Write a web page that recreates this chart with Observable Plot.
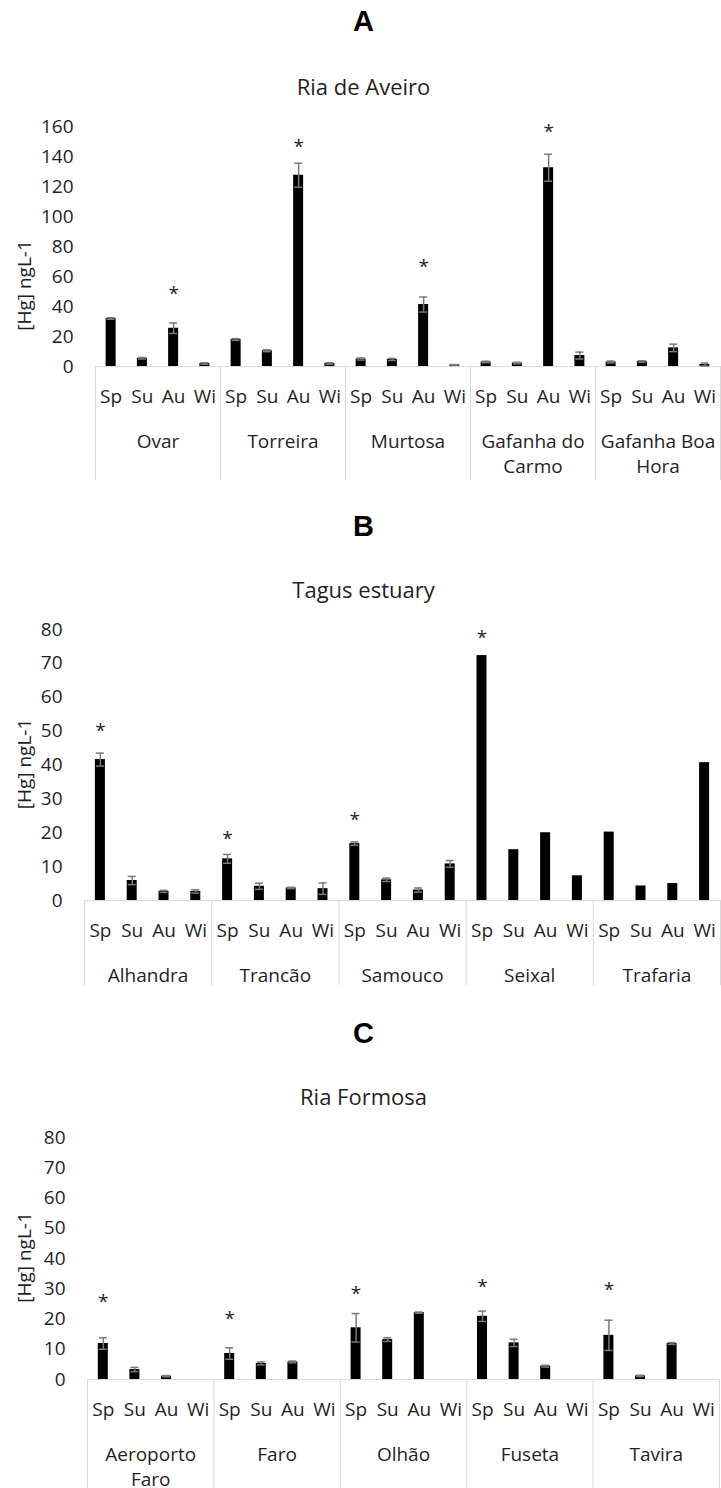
<!DOCTYPE html>
<html>
<head>
<meta charset="utf-8">
<script src="https://cdn.jsdelivr.net/npm/d3@7"></script>
<script src="https://cdn.jsdelivr.net/npm/@observablehq/plot@0.6"></script>
<style>
  html, body { margin: 0; padding: 0; background: #fff; }
  body { width: 721px; height: 1488px; position: relative; overflow: hidden; font-family: "Open Sans", sans-serif; }
  .panel { position: absolute; left: 0; }
  .panel svg { display: block; }
</style>
</head>
<body>
<div id="pA" class="panel" style="top:0px"></div>
<div id="pB" class="panel" style="top:500px"></div>
<div id="pC" class="panel" style="top:1000px"></div>
<script>
// ---------- data ----------
const seasons = ["Sp", "Su", "Au", "Wi"];
const yLabel = "[Hg] ngL-1";

// A - Ria de Aveiro
const aveiroLetter = "A";
const aveiroTitle = "Ria de Aveiro";
const aveiroSites = ["Ovar", "Torreira", "Murtosa", "Gafanha do\nCarmo", "Gafanha Boa\nHora"];
const aveiroMean = [32, 5.5, 25.5, 2,   18, 10.5, 127.5, 2,   5, 4.7, 41.3, 1,   3, 2.3, 132.5, 7.3,   3, 3.3, 12.4, 1.3];
const aveiroErr  = [0.5, 0.5, 3.5, 0.5, 0.6, 0.6, 8, 0.5,    0.7, 0.7, 5, 0.3,  0.5, 0.5, 9, 2.3,     0.6, 0.5, 2.5, 1];
const aveiroStar = [null, null, 51, null, null, null, 149, null, null, null, 69, null, null, null, 159, null, null, null, null, null];
const aveiroTicks = [0, 20, 40, 60, 80, 100, 120, 140, 160];

// B - Tagus estuary
const tagusLetter = "B";
const tagusTitle = "Tagus estuary";
const tagusSites = ["Alhandra", "Trancão", "Samouco", "Seixal", "Trafaria"];
const tagusMean = [41.6, 5.9, 2.7, 2.7,  12.3, 4.2, 3.7, 3.5,  16.8, 6.1, 3.1, 10.8,  72.3, 15, 20, 7.3,  20.2, 4.3, 5, 40.7];
const tagusErr  = [1.9, 1.2, 0.3, 0.5,   1.3, 0.9, 0.2, 1.7,   0.5, 0.5, 0.6, 1.0,    0, 0, 0, 0,       0, 0, 0, 0];
const tagusStar = [51.2, null, null, null, 19.5, null, null, null, 25.1, null, null, null, 78.8, null, null, null, null, null, null, null];
const tagusTicks = [0, 10, 20, 30, 40, 50, 60, 70, 80];

// C - Ria Formosa
const formosaLetter = "C";
const formosaTitle = "Ria Formosa";
const formosaSites = ["Aeroporto\nFaro", "Faro", "Olhão", "Fuseta", "Tavira"];
const formosaMean = [11.9, 3.3, 1.1, null,  8.6, 5.3, 5.8, null,  17.1, 13.2, 22.1, null,  20.9, 12.1, 4.4, null,  14.6, 1.2, 11.9, null];
const formosaErr  = [1.9, 0.7, 0.2, null,   1.9, 0.5, 0.3, null,  4.7, 0.6, 0.2, null,     1.7, 1.2, 0.3, null,   5.0, 0.2, 0.3, null];
const formosaStar = [27.0, null, null, null, 21.5, null, null, null, 29.7, null, null, null, 32.0, null, null, null, 31.1, null, null, null];
const formosaTicks = [0, 10, 20, 30, 40, 50, 60, 70, 80];

// ---------- drawing ----------
const TEXT = "#1f1f1f";
const GRID = "#d9d9d9";
const ERR = "#7a7a7a";
const W = 721;
const FS = 19;

function panel(el, cfg) {
  const n = cfg.mean.length;
  const rows = cfg.mean.map((v, i) => ({
    i, v,
    e: cfg.err[i],
    star: cfg.star[i],
    season: seasons[i % seasons.length]
  }));
  const ml = cfg.ml, mr = cfg.mr, mt = cfg.mt, mb = cfg.mb;
  const slot = (W - ml - mr) / n;
  const barInset = (slot - 10) / 2;
  const capInset = (slot - 8) / 2;
  const frameCx = ml + (W - ml - mr) / 2;
  const shift = 363 - frameCx;
  const groups = cfg.sites.map((s, g) => ({ s, g }));
  const edges = d3.range(0, n + 1, seasons.length);
  const withErr = rows.filter(d => d.v != null && d.e != null && d.e > 0);

  const chart = Plot.plot({
    width: W,
    height: cfg.height,
    marginLeft: ml,
    marginRight: mr,
    marginTop: mt,
    marginBottom: mb,
    style: { fontFamily: '"Open Sans", sans-serif', fontSize: FS + "px", color: TEXT, background: "#fff", overflow: "visible" },
    x: { type: "linear", domain: [0, n] },
    y: { domain: cfg.yDomain },
    marks: [
      // group dividers of the category box
      Plot.axisX(edges, { anchor: "bottom", tickSize: cfg.boxDepth, tickFormat: () => "", stroke: GRID, strokeWidth: 1, label: null }),
      Plot.ruleY([0], { stroke: GRID, strokeWidth: 1 }),
      // y axis
      Plot.axisY(cfg.ticks, { anchor: "left", tickSize: 0, tickPadding: 22, label: null, fill: TEXT, fontSize: FS }),
      // bars
      Plot.rect(rows.filter(d => d.v != null), {
        x1: "i", x2: d => d.i + 1, y1: () => 0, y2: "v",
        fill: "#000", insetLeft: barInset, insetRight: barInset
      }),
      // error bars
      Plot.ruleX(withErr, { x: d => d.i + 0.5, y1: d => d.v - d.e, y2: d => d.v + d.e, stroke: ERR, strokeWidth: 1.5 }),
      Plot.ruleY(withErr, { y: d => d.v + d.e, x1: "i", x2: d => d.i + 1, insetLeft: capInset, insetRight: capInset, stroke: ERR, strokeWidth: 1.5 }),
      Plot.ruleY(withErr, { y: d => d.v - d.e, x1: "i", x2: d => d.i + 1, insetLeft: capInset, insetRight: capInset, stroke: ERR, strokeWidth: 1.5 }),
      // significance asterisks
      Plot.text(rows.filter(d => d.star != null), { x: d => d.i + 0.5, y: "star", text: () => "*", fontSize: 19, lineAnchor: "middle", dy: 4, fill: TEXT }),
      // season labels
      Plot.text(rows, { x: d => d.i + 0.5, frameAnchor: "bottom", text: "season", lineAnchor: "top", dy: 23, fill: TEXT, fontSize: FS }),
      // site labels
      Plot.text(groups, { x: d => d.g * seasons.length + seasons.length / 2, frameAnchor: "bottom", text: "s", lineAnchor: "top", dy: 64, lineHeight: 1.3, fill: TEXT, fontSize: FS }),
      // y label
      Plot.text([yLabel], { frameAnchor: "left", rotate: -90, dx: 24 - ml, dy: cfg.yLabelDy, lineAnchor: "middle", textAnchor: "middle", fill: TEXT, fontSize: FS }),
      // panel letter
      Plot.text([cfg.letter], { frameAnchor: "top", dx: shift, dy: cfg.letterBase - mt, lineAnchor: "bottom", textAnchor: "middle", fontFamily: '"Liberation Sans", Arial, sans-serif', fontWeight: "bold", fontSize: 29, fill: "#000" }),
      // panel title
      Plot.text([cfg.title], { frameAnchor: "top", dx: shift, dy: cfg.titleBase - mt, lineAnchor: "bottom", textAnchor: "middle", fontSize: 22, fill: TEXT })
    ]
  });
  el.appendChild(chart);
}

panel(document.getElementById("pA"), {
  letter: aveiroLetter, title: aveiroTitle, sites: aveiroSites,
  mean: aveiroMean, err: aveiroErr, star: aveiroStar, ticks: aveiroTicks,
  yDomain: [0, 160], height: 500, ml: 95, mr: 1, mt: 126, mb: 134, boxDepth: 114,
  yLabelDy: 39, letterBase: 30.7, titleBase: 94
});
panel(document.getElementById("pB"), {
  letter: tagusLetter, title: tagusTitle, sites: tagusSites,
  mean: tagusMean, err: tagusErr, star: tagusStar, ticks: tagusTicks,
  yDomain: [0, 80], height: 500, ml: 84, mr: 1, mt: 129, mb: 100, boxDepth: 85,
  yLabelDy: -1, letterBase: 35.7, titleBase: 97.7
});
panel(document.getElementById("pC"), {
  letter: formosaLetter, title: formosaTitle, sites: formosaSites,
  mean: formosaMean, err: formosaErr, star: formosaStar, ticks: formosaTicks,
  yDomain: [0, 80], height: 488, ml: 87, mr: 2, mt: 137, mb: 109, boxDepth: 112,
  yLabelDy: -1, letterBase: 42.5, titleBase: 104.3
});
</script>
</body>
</html>
